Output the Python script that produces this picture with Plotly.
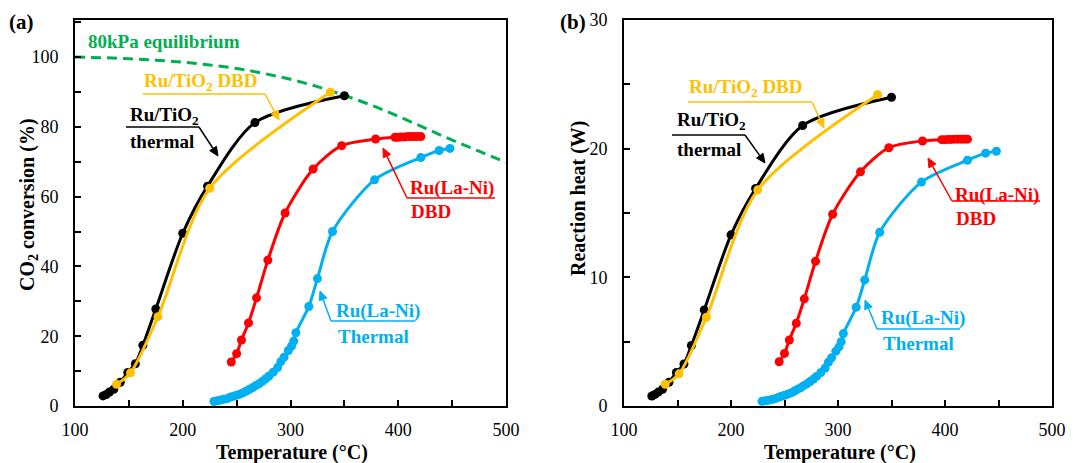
import math
import plotly.graph_objects as go

# ---------------- data (a): CO2 conversion (%) ----------------
eq_T = [100, 125, 150, 175, 200, 225, 250, 275, 300, 325, 350, 375, 400, 425, 450, 475, 500]
eq_conv = [100, 99.8, 99.5, 99.1, 98.5, 97.7, 96.7, 95.3, 93.6, 91.5, 89.0, 86.2, 83.0, 79.6, 76.2, 73.0, 69.8]

tio2_th_T = [126, 129, 132, 136, 142, 149, 156, 163, 175, 200, 223, 267, 350]
tio2_th_conv = [2.9, 3.3, 4.0, 4.8, 6.8, 9.6, 12.1, 17.4, 27.8, 49.5, 63.0, 81.2, 88.9]
tio2_th_heat = [0.78, 0.9, 1.08, 1.3, 1.85, 2.6, 3.26, 4.7, 7.47, 13.3, 16.9, 21.8, 24.0]

tio2_dbd_T = [138.5, 151.5, 177, 225, 337]
tio2_dbd_conv = [6.2, 9.5, 25.6, 62.4, 89.9]
tio2_dbd_heat = [1.69, 2.5, 6.9, 16.8, 24.2]

lani_dbd_T = [245, 250, 254.5, 261, 268.5, 279, 295, 321, 347.5, 379, 397, 400, 403, 406, 409, 412, 415, 418, 421]
lani_dbd_conv = [12.6, 15.0, 18.9, 23.8, 31.0, 41.8, 55.3, 67.9, 74.6, 76.5, 77.0, 77.0, 77.1, 77.1, 77.2, 77.2, 77.2, 77.2, 77.2]
lani_dbd_heat = [3.44, 4.09, 5.13, 6.43, 8.33, 11.25, 14.9, 18.2, 20.07, 20.6, 20.7, 20.7, 20.72, 20.72, 20.74, 20.74, 20.74, 20.74, 20.74]

lani_th_T = [229, 232, 235, 238, 241, 244, 247, 250, 253, 256, 259, 262, 265, 268, 271, 274, 277, 280, 284, 288,
             291, 294, 298, 301, 303, 305, 317, 325, 339, 378, 421, 438, 448]
lani_th_conv = [1.3, 1.5, 1.7, 1.9, 2.1, 2.5, 2.8, 3.1, 3.4, 3.8, 4.3, 4.8, 5.3, 5.9, 6.4, 7.1, 7.8, 8.6, 9.7, 11.0,
                12.7, 14.0, 15.9, 17.2, 18.6, 21.0, 28.5, 36.5, 50.0, 64.8, 71.2, 73.2, 73.8]
lani_th_heat = [0.36, 0.4, 0.45, 0.5, 0.56, 0.66, 0.75, 0.83, 0.92, 1.02, 1.15, 1.29, 1.42, 1.58, 1.72, 1.9, 2.09, 2.3, 2.6, 2.95,
                3.4, 3.75, 4.26, 4.6, 5.0, 5.63, 7.68, 9.8, 13.5, 17.4, 19.1, 19.65, 19.8]

x_ticks = [100, 200, 300, 400, 500]

BLACK = "#000000"
GOLD = "#FFC000"
RED = "#FF0000"
BLUE = "#00B0F0"
GREEN = "#00B050"
FONT = "Liberation Serif"

fig = go.Figure()


def series(x, y, color, xa, ya, size=9):
    fig.add_trace(go.Scatter(x=x, y=y, mode="lines+markers", xaxis=xa, yaxis=ya,
                             line=dict(color=color, width=3, shape="spline", smoothing=0.8),
                             marker=dict(color=color, size=size), showlegend=False))


fig.add_trace(go.Scatter(x=eq_T, y=eq_conv, mode="lines", xaxis="x", yaxis="y",
                         line=dict(color=GREEN, width=3, dash="10px,6px", shape="spline"),
                         showlegend=False))
series(lani_th_T, lani_th_conv, BLUE, "x", "y")
series(lani_dbd_T, lani_dbd_conv, RED, "x", "y")
series(tio2_th_T, tio2_th_conv, BLACK, "x", "y")
series(tio2_dbd_T, tio2_dbd_conv, GOLD, "x", "y")

series(lani_th_T, lani_th_heat, BLUE, "x2", "y2")
series(lani_dbd_T, lani_dbd_heat, RED, "x2", "y2")
series(tio2_th_T, tio2_th_heat, BLACK, "x2", "y2")
series(tio2_dbd_T, tio2_dbd_heat, GOLD, "x2", "y2")

# --------------- layout geometry ----------------
W, H = 1091, 463
L, R, T, B = 75, 1052, 20, 406


def px(x):
    return (x - L) / (R - L)


def py(y):
    return (B - y) / (B - T)


tickfont = dict(family=FONT, size=18, color="black")
minor_x = dict(dtick=50, ticks="inside", ticklen=6, tickwidth=1.5, tickcolor="black")


def axis(**kw):
    d = dict(showline=True, linecolor="black", linewidth=2, mirror=True,
             ticks="inside", ticklen=6, tickwidth=1.5, tickcolor="black",
             showgrid=False, zeroline=False, tickfont=tickfont, automargin=False)
    d.update(kw)
    return d


fig.update_layout(
    width=W, height=H, margin=dict(l=L, r=W - R, t=T, b=H - B),
    paper_bgcolor="white", plot_bgcolor="white", showlegend=False,
    font=dict(family=FONT),
    xaxis=axis(domain=[0, px(506)], range=[100, 500], tickvals=x_ticks, minor=minor_x,
               ticklabelstandoff=6, anchor="y"),
    yaxis=axis(domain=[0, 1], range=[0, 110.6], dtick=20,
               minor=dict(dtick=10, ticks="inside", ticklen=6, tickwidth=1.5, tickcolor="black"),
               ticklabelstandoff=11, anchor="x"),
    xaxis2=axis(domain=[px(624), 1], range=[100, 500], tickvals=x_ticks, minor=minor_x,
                ticklabelstandoff=6, anchor="y2"),
    yaxis2=axis(domain=[0, 1], range=[0, 30], dtick=10,
                minor=dict(dtick=5, ticks="inside", ticklen=6, tickwidth=1.5, tickcolor="black"),
                ticklabelstandoff=11, anchor="x2"),
)

annotations = []
shapes = []


def text(x, y, s, color, size=19, xanchor="center", angle=0):
    annotations.append(dict(x=px(x), y=py(y), xref="paper", yref="paper", text=s, showarrow=False,
                            xanchor=xanchor, yanchor="middle", textangle=angle,
                            font=dict(family=FONT, size=size, color=color)))


def seg(x0, y0, x1, y1, color):
    shapes.append(dict(type="line", xref="paper", yref="paper", x0=px(x0), x1=px(x1), y0=py(y0), y1=py(y1),
                       line=dict(color=color, width=1.5)))


def uline(x0, x1, y, color):
    seg(x0, y, x1, y, color)


def arrow(x_tail, y_tail, x_tip, y_tip, color, head=9, half=4):
    dx, dy = x_tip - x_tail, y_tip - y_tail
    n = math.hypot(dx, dy)
    ux, uy = dx / n, dy / n
    bx, by = x_tip - ux * head, y_tip - uy * head
    seg(x_tail, y_tail, bx, by, color)
    p1 = (bx - uy * half, by + ux * half)
    p2 = (bx + uy * half, by - ux * half)
    path = "M {} {} L {} {} L {} {} Z".format(px(x_tip), py(y_tip), px(p1[0]), py(p1[1]), px(p2[0]), py(p2[1]))
    shapes.append(dict(type="path", xref="paper", yref="paper", path=path,
                       fillcolor=color, line=dict(color=color, width=1)))


# axis titles
text(292, 452, "<b>Temperature (°C)</b>", "black", size=20)
text(840, 452, "<b>Temperature (°C)</b>", "black", size=20)
text(28, 205, "<b>CO<sub>2</sub> conversion (%)</b>", "black", size=20, angle=-90)
text(578, 198, "<b>Reaction heat (W)</b>", "black", size=20, angle=-90)

# panel labels
text(21, 22, "<b>(a)</b>", "black", size=21)
text(573, 22, "<b>(b)</b>", "black", size=21)
text(86, 42, "<b>80kPa equilibrium</b>", GREEN, xanchor="left")

# (a) labels
text(201, 82, "<b>Ru/TiO<sub>2</sub> DBD</b>", GOLD)
uline(143, 265, 94, GOLD)
arrow(265, 94, 279, 120, GOLD)

text(128, 116, "<b>Ru/TiO<sub>2</sub></b>", "black", xanchor="left")
text(128, 141, "<b>thermal</b>", "black", xanchor="left")
uline(126, 199, 127, "black")
arrow(199, 127, 218, 156, "black")

text(452, 188, "<b>Ru(La-Ni)</b>", RED)
text(409, 211, "<b>DBD</b>", RED, xanchor="left")
uline(407, 495, 198, RED)
arrow(407, 198, 383, 148, RED)

text(378, 311, "<b>Ru(La-Ni)</b>", BLUE)
text(373, 336, "<b>Thermal</b>", BLUE)
uline(331, 415, 321, BLUE)
arrow(331, 321, 320, 291, BLUE)

# (b) labels
text(746, 88, "<b>Ru/TiO<sub>2</sub> DBD</b>", GOLD)
uline(688, 812, 102, GOLD)
arrow(812, 102, 824, 128, GOLD)

text(675, 121, "<b>Ru/TiO<sub>2</sub></b>", "black", xanchor="left")
text(675, 149, "<b>thermal</b>", "black", xanchor="left")
uline(672, 745, 135, "black")
arrow(745, 135, 765, 163, "black")

text(997, 195, "<b>Ru(La-Ni)</b>", RED)
text(954, 218, "<b>DBD</b>", RED, xanchor="left")
uline(952, 1040, 201, RED)
arrow(952, 201, 928, 158, RED)

text(923, 318, "<b>Ru(La-Ni)</b>", BLUE)
text(918, 343, "<b>Thermal</b>", BLUE)
uline(877, 960, 329, BLUE)
arrow(877, 329, 865, 300, BLUE)

fig.update_layout(annotations=annotations, shapes=shapes)

fig.write_html("out.html")
